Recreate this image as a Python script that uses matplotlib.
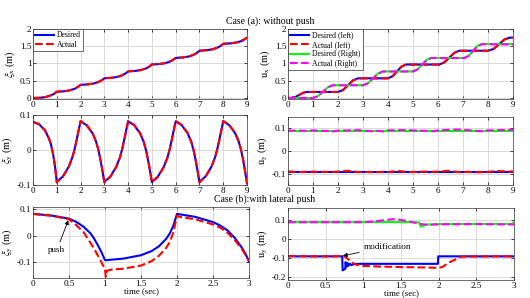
import numpy as np
import matplotlib
matplotlib.use("Agg")
import matplotlib.pyplot as plt

plt.rcParams['font.family'] = ['Liberation Serif', 'DejaVu Serif']
plt.rcParams['mathtext.fontset'] = 'stix'

# ---------------- case (a): walking without push ----------------
# DCM in x
t_xi_x = [0, 0.3, 0.55, 0.75, 0.9,
          1, 1.3, 1.55, 1.75, 1.9,
          2, 2.3, 2.55, 2.75, 2.9,
          3, 3.3, 3.55, 3.75, 3.9,
          4, 4.3, 4.55, 4.75, 4.9,
          5, 5.3, 5.55, 5.75, 5.9,
          6, 6.3, 6.55, 6.75, 6.9,
          7, 7.3, 7.55, 7.75, 7.9,
          8, 8.3, 8.55, 8.75, 8.9,
          9]
xi_x_des = [0.000, 0.005, 0.030, 0.075, 0.125,
            0.180, 0.194, 0.220, 0.266, 0.324,
            0.380, 0.393, 0.418, 0.462, 0.517,
            0.570, 0.584, 0.610, 0.656, 0.714,
            0.770, 0.784, 0.810, 0.856, 0.914,
            0.970, 0.983, 1.008, 1.052, 1.107,
            1.160, 1.175, 1.202, 1.250, 1.311,
            1.370, 1.384, 1.410, 1.456, 1.514,
            1.570, 1.583, 1.606, 1.647, 1.700,
            1.750]
xi_x_act = [0.000, 0.006, 0.032, 0.077, 0.127,
            0.182, 0.195, 0.222, 0.268, 0.326,
            0.381, 0.394, 0.420, 0.464, 0.519,
            0.572, 0.585, 0.612, 0.658, 0.716,
            0.771, 0.785, 0.812, 0.858, 0.916,
            0.972, 0.984, 1.010, 1.054, 1.109,
            1.162, 1.176, 1.204, 1.252, 1.313,
            1.371, 1.385, 1.412, 1.458, 1.516,
            1.571, 1.584, 1.608, 1.649, 1.702,
            1.752]

# foot positions in x
t_ux_left = [0, 0.12, 0.3, 0.45, 0.6, 0.75, 2.0, 2.2, 2.4, 2.6, 2.8, 4.0, 4.18, 4.36, 4.54, 4.72,
             6.05, 6.25, 6.45, 6.65, 6.85, 8.0, 8.22, 8.44, 8.66, 8.88, 9.0]
ux_left_des = [0, 0, 0.03, 0.09, 0.15, 0.175, 0.175, 0.23, 0.37, 0.51, 0.57, 0.57, 0.63, 0.77, 0.91, 0.97,
               0.97, 1.03, 1.17, 1.31, 1.37, 1.37, 1.42, 1.56, 1.70, 1.75, 1.75]
ux_left_act = [0, 0, 0.028, 0.088, 0.148, 0.173, 0.173, 0.225, 0.365, 0.505, 0.568, 0.568, 0.625, 0.765, 0.905, 0.968,
               0.968, 1.025, 1.165, 1.305, 1.368, 1.368, 1.415, 1.555, 1.695, 1.748, 1.748]
t_ux_right = [0, 1.0, 1.2, 1.4, 1.6, 1.8, 3.0, 3.2, 3.4, 3.6, 3.8, 5.0, 5.18, 5.36, 5.54, 5.72,
              7.05, 7.22, 7.4, 7.58, 7.76, 9.0]
ux_right_des = [0, 0, 0.055, 0.185, 0.315, 0.37, 0.37, 0.43, 0.57, 0.71, 0.77, 0.77, 0.83, 0.965, 1.10, 1.16,
                1.16, 1.22, 1.365, 1.51, 1.565, 1.565]
ux_right_act = [0, 0, 0.05, 0.18, 0.31, 0.368, 0.368, 0.425, 0.565, 0.705, 0.768, 0.768, 0.825, 0.96, 1.095, 1.158,
                1.158, 1.215, 1.36, 1.505, 1.56, 1.55]

# DCM in y
t_xi_y = [0, 0.25, 0.5, 0.65, 0.75, 0.85, 0.92,
          1.0, 1.03, 1.25, 1.5, 1.65, 1.75, 1.85, 1.92,
          2.0, 2.25, 2.5, 2.65, 2.75, 2.85, 2.92,
          3.0, 3.03, 3.25, 3.5, 3.65, 3.75, 3.85, 3.92,
          4.0, 4.25, 4.5, 4.65, 4.75, 4.85, 4.92,
          5.0, 5.03, 5.25, 5.5, 5.65, 5.75, 5.85, 5.92,
          6.0, 6.25, 6.5, 6.65, 6.75, 6.85, 6.92,
          7.0, 7.03, 7.25, 7.5, 7.65, 7.75, 7.85, 7.92,
          8.0, 8.25, 8.5, 8.65, 8.75, 8.85, 8.92,
          9.0]
xi_y_des = [0.080, 0.074, 0.056, 0.036, 0.017, -0.014, -0.045,
            -0.092, -0.089, -0.076, -0.048, -0.022, 0.003, 0.034, 0.057,
            0.082, 0.071, 0.048, 0.024, 0.000, -0.033, -0.060,
            -0.092, -0.089, -0.076, -0.048, -0.022, 0.003, 0.034, 0.057,
            0.082, 0.071, 0.048, 0.024, 0.000, -0.033, -0.060,
            -0.092, -0.089, -0.076, -0.048, -0.022, 0.003, 0.034, 0.057,
            0.082, 0.071, 0.048, 0.024, 0.000, -0.033, -0.060,
            -0.092, -0.089, -0.076, -0.048, -0.022, 0.003, 0.034, 0.057,
            0.082, 0.071, 0.048, 0.024, 0.000, -0.033, -0.062,
            -0.095]
xi_y_act = [0.081, 0.074, 0.057, 0.037, 0.018, -0.013, -0.044,
            -0.093, -0.090, -0.077, -0.049, -0.023, 0.002, 0.033, 0.056,
            0.083, 0.072, 0.049, 0.025, 0.001, -0.032, -0.059,
            -0.093, -0.090, -0.077, -0.049, -0.023, 0.002, 0.033, 0.056,
            0.083, 0.072, 0.049, 0.025, 0.001, -0.032, -0.059,
            -0.093, -0.090, -0.077, -0.049, -0.023, 0.002, 0.033, 0.056,
            0.083, 0.072, 0.049, 0.025, 0.001, -0.032, -0.059,
            -0.093, -0.090, -0.077, -0.049, -0.023, 0.002, 0.033, 0.056,
            0.083, 0.072, 0.049, 0.025, 0.001, -0.032, -0.061,
            -0.096]

# foot positions in y
t_uy_des = [0, 9]
uy_left_des = [-0.091, -0.091]
uy_right_des = [0.089, 0.089]
t_uy_act = [0, 0.4, 0.8, 1.0, 1.3, 1.6, 1.8, 2.0, 2.4, 2.8, 3.0, 3.3, 3.6, 3.8, 4.0,
            4.4, 4.8, 5.2, 5.5, 5.8, 6.0, 6.4, 6.8, 7.2, 7.6, 7.8, 8.0, 8.4, 8.8, 9.0]
uy_right_act = [0.090, 0.090, 0.089, 0.091, 0.089, 0.088, 0.086, 0.090, 0.091, 0.092, 0.090, 0.087, 0.089, 0.086, 0.091,
                0.092, 0.092, 0.090, 0.089, 0.087, 0.091, 0.093, 0.095, 0.092, 0.088, 0.087, 0.091, 0.092, 0.093, 0.094]
uy_left_act = [-0.090, -0.093, -0.092, -0.091, -0.092, -0.092, -0.092, -0.091, -0.087, -0.093, -0.092, -0.093, -0.093, -0.092, -0.093,
               -0.088, -0.093, -0.092, -0.091, -0.092, -0.091, -0.087, -0.093, -0.092, -0.094, -0.093, -0.092, -0.088, -0.091, -0.090]

# ---------------- case (b): lateral push ----------------
t_push_des = [0, 0.25, 0.5, 0.6, 0.7, 0.8, 0.85, 0.9, 0.95, 1.0, 1.25, 1.5, 1.65, 1.75, 1.85, 1.9, 1.95,
              2.0, 2.25, 2.5, 2.6, 2.7, 2.8, 2.9, 2.95, 3.0]
xi_y_push_des = [0.082, 0.076, 0.064, 0.052, 0.034, 0.008, -0.012, -0.036, -0.062, -0.093, -0.087, -0.074, -0.058,
                 -0.040, -0.012, 0.008, 0.038, 0.082, 0.071, 0.051, 0.038, 0.020, -0.008, -0.045, -0.068, -0.098]
t_push_act = [0, 0.25, 0.5, 0.6, 0.7, 0.8, 0.85, 0.9, 0.95, 1.0, 1.01, 1.03, 1.1, 1.25, 1.5, 1.65, 1.75, 1.85,
              1.9, 1.95, 2.0, 2.05, 2.25, 2.5, 2.6, 2.7, 2.8, 2.9, 2.95, 3.0]
xi_y_push_act = [0.082, 0.075, 0.062, 0.040, 0.014, -0.028, -0.050, -0.075, -0.100, -0.128, -0.155, -0.132, -0.128,
                 -0.125, -0.113, -0.096, -0.076, -0.046, -0.024, 0.012, 0.075, 0.070, 0.062, 0.042, 0.030, 0.011,
                 -0.016, -0.050, -0.072, -0.095]

t_uyp_right_des = [0, 1.0, 1.3, 1.6, 1.74, 1.76, 1.8, 1.85, 2.0, 2.5, 2.97, 3.0]
uyp_right_des = [0.088, 0.088, 0.089, 0.088, 0.087, 0.065, 0.070, 0.076, 0.078, 0.079, 0.079, 0.088]
t_uyp_right_act = [0, 0.5, 1.0, 1.15, 1.3, 1.4, 1.5, 1.6, 1.7, 1.8, 1.9, 2.0, 2.5, 3.0]
uyp_right_act = [0.088, 0.088, 0.088, 0.092, 0.100, 0.104, 0.100, 0.092, 0.084, 0.076, 0.075, 0.077, 0.078, 0.076]
t_uyp_left_des = [0, 0.72, 0.725, 0.76, 0.765, 0.775, 0.79, 0.80, 0.82, 0.84, 0.87, 0.95, 1.99, 1.995, 3.0]
uyp_left_des = [-0.09, -0.09, -0.163, -0.155, -0.12, -0.145, -0.125, -0.14, -0.128, -0.136, -0.131, -0.129,
                -0.129, -0.09, -0.09]
t_uyp_left_act = [0, 0.3, 0.6, 0.74, 0.8, 0.85, 0.9, 1.0, 1.2, 1.5, 1.8, 2.0, 2.05, 2.15, 2.3, 2.6, 3.0]
uyp_left_act = [-0.088, -0.090, -0.090, -0.088, -0.105, -0.122, -0.133, -0.140, -0.143, -0.146, -0.148, -0.150,
                -0.145, -0.120, -0.092, -0.090, -0.090]

# ticks
ticks_9 = [0, 1, 2, 3, 4, 5, 6, 7, 8, 9]
ticks_3 = [0, 0.5, 1, 1.5, 2, 2.5, 3]
ticks_3_lbl = ['0', '0.5', '1', '1.5', '2', '2.5', '3']
ticks_x_y = [0, 0.5, 1, 1.5, 2]
ticks_x_lbl = ['0', '0.5', '1', '1.5', '2']
ticks_y1 = [-0.1, 0, 0.1]
ticks_y1_lbl = ['-0.1', '0', '0.1']
ticks_y2 = [-0.2, -0.1, 0, 0.1]
ticks_y2_lbl = ['-0.2', '-0.1', '0', '0.1']

BLUE, RED, GREEN, MAG = '#0000ff', '#ff0000', '#00ff00', '#ff00ff'
LW = 1.5
FS = 6.6        # tick labels / annotations
FS_LEG = 5.6    # legend text
FS_TITLE = 7

fig = plt.figure(figsize=(5.3, 2.98), dpi=100)


def style(ax):
    ax.grid(True, color='#d4d4d4', lw=0.6)
    ax.set_axisbelow(True)
    ax.tick_params(direction='in', length=2, width=0.5, labelsize=FS, top=True, right=True, pad=1.2)
    for s in ax.spines.values():
        s.set_linewidth(0.5)
        s.set_color('#333333')


def leg(ax):
    lg = ax.legend(loc='upper left', fontsize=FS_LEG, handlelength=2.4, borderpad=0.3, labelspacing=0.2,
                   handletextpad=0.4, fancybox=False, framealpha=1, borderaxespad=0)
    lg.get_frame().set_edgecolor('#333333')
    lg.get_frame().set_linewidth(0.5)


# top left
ax = fig.add_axes([0.0623, 0.6678, 0.4038, 0.2349])
ax.plot(t_xi_x, xi_x_des, color=BLUE, lw=LW, label='Desired')
ax.plot(t_xi_x, xi_x_act, color=RED, lw=LW, ls='--', label='Actual')
ax.set_xlim(0, 9)
ax.set_ylim(-0.03, 2)
ax.set_xticks(ticks_9)
ax.set_yticks(ticks_x_y, ticks_x_lbl)
ax.set_ylabel(r'$\xi_{\rm x}$ (m)', fontsize=7.5, labelpad=2)
style(ax)
leg(ax)

# top right
ax = fig.add_axes([0.5434, 0.6678, 0.4245, 0.2349])
ax.plot(t_ux_left, ux_left_des, color=BLUE, lw=LW, label='Desired (left)')
ax.plot(t_ux_left, ux_left_act, color=RED, lw=LW, ls='--', label='Actual (left)')
ax.plot(t_ux_right, ux_right_des, color=GREEN, lw=LW, label='Desired (Right)')
ax.plot(t_ux_right, ux_right_act, color=MAG, lw=LW, ls='--', label='Actual (Right)')
ax.set_xlim(0, 9)
ax.set_ylim(-0.03, 2)
ax.set_xticks(ticks_9)
ax.set_yticks(ticks_x_y, ticks_x_lbl)
ax.set_ylabel(r'u$_{\rm x}$ (m)', fontsize=7.5, labelpad=2)
style(ax)
leg(ax)

# middle left
ax = fig.add_axes([0.0623, 0.3792, 0.4038, 0.2349])
ax.plot(t_xi_y, xi_y_des, color=BLUE, lw=LW)
ax.plot(t_xi_y, xi_y_act, color=RED, lw=LW, ls='--')
ax.set_xlim(0, 9)
ax.set_ylim(-0.1, 0.1)
ax.set_xticks(ticks_9)
ax.set_yticks(ticks_y1, ticks_y1_lbl)
ax.set_ylabel(r'$\xi_{\rm y}$ (m)', fontsize=7.5, labelpad=2)
style(ax)

# middle right
ax = fig.add_axes([0.5434, 0.3792, 0.4245, 0.2282])
ax.plot(t_uy_des, uy_left_des, color=BLUE, lw=LW)
ax.plot(t_uy_act, uy_left_act, color=RED, lw=LW, ls='--')
ax.plot(t_uy_des, uy_right_des, color=GREEN, lw=LW)
ax.plot(t_uy_act, uy_right_act, color=MAG, lw=LW, ls='--')
ax.set_xlim(0, 9)
ax.set_ylim(-0.15, 0.15)
ax.set_xticks(ticks_9)
ax.set_yticks(ticks_y1, ticks_y1_lbl)
ax.set_ylabel(r'u$_{\rm y}$ (m)', fontsize=7.5, labelpad=2)
style(ax)

# bottom left
ax = fig.add_axes([0.0623, 0.0671, 0.4075, 0.2383])
ax.plot(t_push_des, xi_y_push_des, color=BLUE, lw=LW)
ax.plot(t_push_act, xi_y_push_act, color=RED, lw=LW, ls='--')
ax.set_xlim(0, 3)
ax.set_ylim(-0.16, 0.108)
ax.set_xticks(ticks_3, ticks_3_lbl)
ax.set_yticks(ticks_y1, ticks_y1_lbl)
ax.set_ylabel(r'$\xi_{\rm y}$ (m)', fontsize=7.5, labelpad=2)
ax.set_xlabel('time (sec)', fontsize=6.3, labelpad=-0.5)
ax.annotate('push', xy=(0.49, 0.058), xytext=(0.33, -0.055), fontsize=FS, ha='center', va='center',
            arrowprops=dict(arrowstyle='-|>', color='black', lw=0.6, mutation_scale=6, shrinkA=1, shrinkB=0))
style(ax)

# bottom right
ax = fig.add_axes([0.5434, 0.0600, 0.4264, 0.2420])
ax.plot(t_uyp_left_des, uyp_left_des, color=BLUE, lw=LW)
ax.plot(t_uyp_left_act, uyp_left_act, color=RED, lw=LW, ls='--')
ax.plot(t_uyp_right_des, uyp_right_des, color=GREEN, lw=LW)
ax.plot(t_uyp_right_act, uyp_right_act, color=MAG, lw=LW, ls='--')
ax.set_xlim(0, 3)
ax.set_ylim(-0.214, 0.162)
ax.set_xticks(ticks_3, ticks_3_lbl)
ax.set_yticks(ticks_y2, ticks_y2_lbl)
ax.set_ylabel(r'u$_{\rm y}$ (m)', fontsize=7.5, labelpad=2)
ax.set_xlabel('time (sec)', fontsize=6.3, labelpad=-0.5)
ax.annotate('modification', xy=(0.73, -0.087), xytext=(1.0, -0.04), fontsize=FS, ha='left', va='center',
            arrowprops=dict(arrowstyle='-|>', color='black', lw=0.6, mutation_scale=6, shrinkA=1, shrinkB=0))
style(ax)

fig.text(0.51, 0.93, 'Case (a): without push', fontsize=FS_TITLE, ha='center', va='center')
fig.text(0.5, 0.331, 'Case (b):with lateral push', fontsize=FS_TITLE, ha='center', va='center')

fig.savefig('out.png', dpi=100)
